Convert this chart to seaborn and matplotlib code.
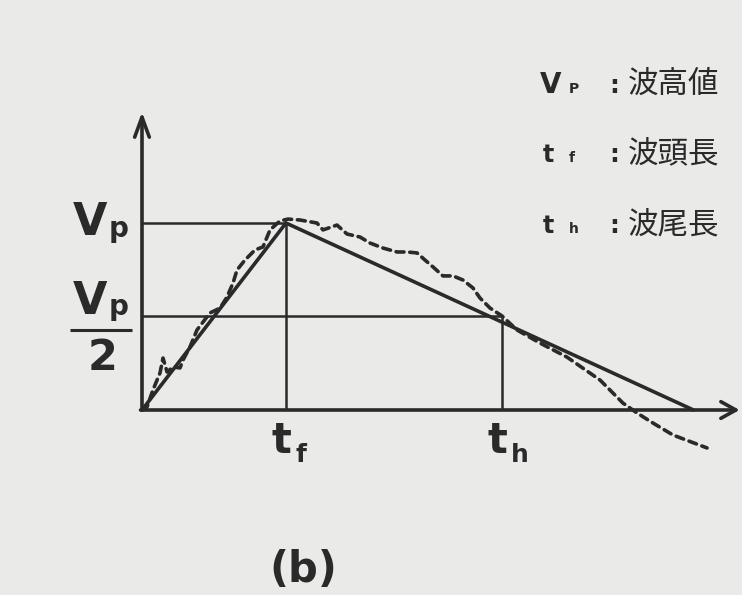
import matplotlib
matplotlib.use("Agg")
import matplotlib.pyplot as plt
from matplotlib.patches import FancyArrowPatch
import pandas as pd
import seaborn as sns

# Standard impulse wave: peak value Vp, front time tf, tail time th (Vp/2 point)
V_P = 1.0
T_F = 1.0
T_H = 2.5
T_END = 3.83

std_t = [0.0, T_F, T_END]
std_v = [0.0, V_P, 0.0]

# Recorded (measured) impulse waveform, normalised to Vp and tf
meas_t = [0.000, 0.035, 0.076, 0.125, 0.146, 0.174, 0.215, 0.264, 0.285, 0.333,
          0.382, 0.472, 0.542, 0.590, 0.632, 0.660, 0.715, 0.785, 0.840, 0.889,
          0.958, 1.014, 1.097, 1.215, 1.257, 1.354, 1.424, 1.514, 1.583, 1.674,
          1.771, 1.840, 1.910, 1.965, 2.021, 2.090, 2.160, 2.229, 2.299, 2.347,
          2.417, 2.500, 2.604, 2.764, 2.951, 3.181, 3.340, 3.438, 3.549, 3.688,
          3.924]
meas_v = [0.000, 0.016, 0.107, 0.198, 0.278, 0.203, 0.230, 0.225, 0.267, 0.337,
          0.428, 0.519, 0.545, 0.604, 0.679, 0.749, 0.802, 0.856, 0.872, 0.963,
          1.011, 1.021, 1.016, 1.000, 0.963, 0.989, 0.941, 0.925, 0.893, 0.866,
          0.845, 0.845, 0.840, 0.802, 0.765, 0.717, 0.717, 0.695, 0.652, 0.599,
          0.545, 0.503, 0.428, 0.358, 0.283, 0.160, 0.037, -0.016, -0.070, -0.134,
          -0.203]

legend_rows = [("V", "P", "波高値"), ("t", "f", "波頭長"), ("t", "h", "波尾長")]

sns.set_theme(style="white")
plt.rcParams["font.family"] = ["DejaVu Sans"]

INK = "#2a2a2a"
BG = "#eaeae8"

fig = plt.figure(figsize=(7.42, 5.95), dpi=100, facecolor=BG)
ax = fig.add_axes([0, 0, 1, 1])
ax.set_facecolor(BG)
ax.set_xlim(-0.9861, 4.1667)
ax.set_ylim(-0.9893, 2.1925)
ax.set_axis_off()

# guide lines for Vp, Vp/2, tf and th
guide = dict(color=INK, lw=1.8, solid_capstyle="butt")
ax.plot([0, T_F], [V_P, V_P], **guide)
ax.plot([T_F, T_F], [0, V_P], **guide)
ax.plot([0, T_H], [V_P / 2, V_P / 2], **guide)
ax.plot([T_H, T_H], [0, V_P / 2], **guide)

# coordinate axes with open arrowheads
ax.add_patch(FancyArrowPatch((0, 0), (0, 1.594),
                             arrowstyle="->,head_length=0.6,head_width=0.22",
                             mutation_scale=24, color=INK, lw=2.6,
                             shrinkA=0, shrinkB=0))
ax.add_patch(FancyArrowPatch((-0.01, 0), (4.15, 0),
                             arrowstyle="->,head_length=0.45,head_width=0.25",
                             mutation_scale=24, color=INK, lw=2.6,
                             shrinkA=0, shrinkB=0))

std_df = pd.DataFrame({"t": std_t, "v": std_v})
meas_df = pd.DataFrame({"t": meas_t, "v": meas_v})

sns.lineplot(data=std_df, x="t", y="v", ax=ax, color=INK, lw=2.6,
             sort=False, estimator=None, solid_joinstyle="miter")
sns.lineplot(data=meas_df, x="t", y="v", ax=ax, color=INK, lw=2.6,
             sort=False, estimator=None, linestyle=(0, (2.2, 1.6)),
             dash_capstyle="round")

# axis labels
bold = dict(color=INK, fontweight="bold", va="baseline")
ax.text(-0.243, 0.936, "V", ha="right", fontsize=32, **bold)
ax.text(-0.229, 0.925, "p", ha="left", fontsize=20, **bold)
ax.text(-0.243, 0.513, "V", ha="right", fontsize=32, **bold)
ax.text(-0.229, 0.508, "p", ha="left", fontsize=20, **bold)
ax.plot([-0.500, -0.069], [0.428, 0.428], color=INK, lw=2.2, solid_capstyle="butt")
ax.text(-0.271, 0.214, "2", ha="center", fontsize=31, **bold)

ax.text(0.965, -0.230, "t", ha="center", fontsize=30, **bold)
ax.text(1.063, -0.278, "f", ha="left", fontsize=18, **bold)
ax.text(2.465, -0.230, "t", ha="center", fontsize=30, **bold)
ax.text(2.563, -0.278, "h", ha="left", fontsize=18, **bold)

# legend of symbols
row_y = [1.695, 1.326, 0.947]
for (sym, sub, name), y in zip(legend_rows, row_y):
    big = 20 if sym == "V" else 17
    ax.text(2.764 if sym == "V" else 2.785, y, sym, ha="left", fontsize=big, **bold)
    ax.text(2.965, y, sub, ha="left", fontsize=10, **bold)
    ax.text(3.278, y, ":", ha="center", fontsize=18, **bold)
    ax.text(3.375, y + 0.045, name, ha="left", va="center", fontsize=22,
            color=INK, family=["Noto Sans CJK JP", "DejaVu Sans"])

ax.text(1.118, -0.920, "(b)", ha="center", fontsize=30, **bold)

fig.savefig("out.png", dpi=100, facecolor=BG)
